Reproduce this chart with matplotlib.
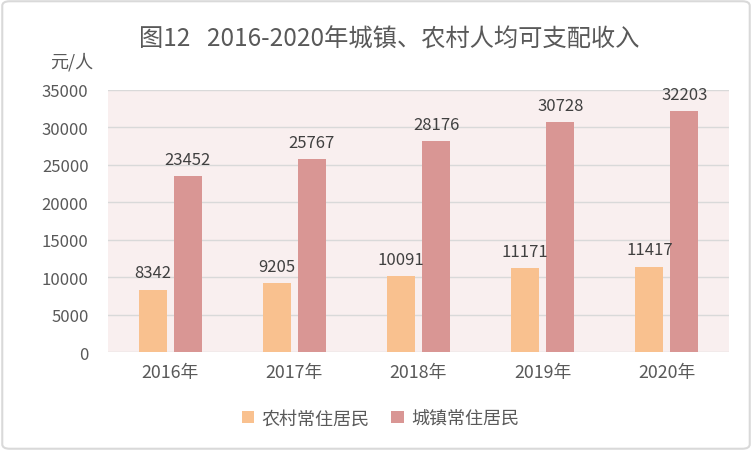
import matplotlib.pyplot as plt
import numpy as np
from matplotlib.patches import FancyBboxPatch

plt.rcParams['font.family'] = ['Noto Sans CJK SC', 'DejaVu Sans']

# datos del gráfico
years = ['2016年', '2017年', '2018年', '2019年', '2020年']
rural = [8342, 9205, 10091, 11171, 11417]
urban = [23452, 25767, 28176, 30728, 32203]
series_names = ['农村常住居民', '城镇常住居民']

c_rural = '#F9C18F'
c_urban = '#D99694'
c_text = '#595959'

fig = plt.figure(figsize=(7.52, 4.52), dpi=100)
ax = fig.add_axes([0.1436, 0.219, 0.8258, 0.5797])
ax.set_facecolor('#F9EFEF')

x = np.arange(len(years))
w = 0.226
off = 0.141
b1 = ax.bar(x - off, rural, w, color=c_rural, label=series_names[0], zorder=3)
b2 = ax.bar(x + off, urban, w, color=c_urban, label=series_names[1], zorder=3)

for bars in (b1, b2):
    for r in bars:
        ax.annotate(f'{int(r.get_height())}', (r.get_x() + r.get_width() / 2, r.get_height()),
                    xytext=(0, 6), textcoords='offset points', ha='center', va='bottom',
                    fontsize=12, color='#404040')

ax.set_xlim(-0.5, len(years) - 0.5)
ax.set_ylim(0, 35000)
ax.set_yticks(np.arange(0, 35001, 5000))
ax.set_xticks(x)
ax.set_xticklabels(years)
ax.yaxis.grid(True, color='#D9D9D9', linewidth=1, zorder=0)
ax.set_axisbelow(True)
for s in ax.spines.values():
    s.set_visible(False)
ax.tick_params(axis='both', length=0, labelsize=12, colors=c_text)
ax.tick_params(axis='x', labelsize=12.8, pad=8)
ax.tick_params(axis='y', pad=14)

fig.text(0.517, 0.912, '图12   2016-2020年城镇、农村人均可支配收入', ha='center', va='center',
         fontsize=17.5, color=c_text)
fig.text(0.096, 0.862, '元/人', ha='center', va='center', fontsize=13, color=c_text)

fig.legend(loc='center', bbox_to_anchor=(0.506, 0.072), ncol=2, frameon=False,
           fontsize=13, labelcolor=c_text, handlelength=0.7, handleheight=0.7,
           handletextpad=0.4, columnspacing=1.2)

border = FancyBboxPatch((0.003, 0.005), 0.994, 0.99, boxstyle='round,pad=0,rounding_size=0.01',
                        transform=fig.transFigure, fill=False, edgecolor='#D9D9D9', linewidth=1.5)
fig.patches.append(border)

fig.savefig('out.png', dpi=100)
